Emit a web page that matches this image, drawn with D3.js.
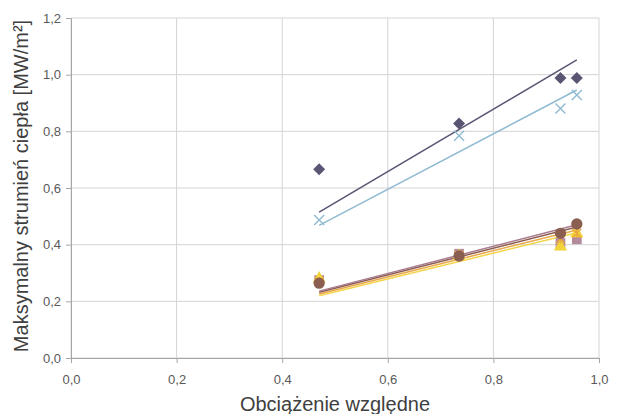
<!DOCTYPE html>
<html><head><meta charset="utf-8">
<script src="https://cdn.jsdelivr.net/npm/d3@7"></script>
<style>body{margin:0;background:#fff}svg{display:block}</style>
</head><body>
<svg id="c" width="620" height="414"></svg>
<script>
// ---- data ----
const xTicks = [0, 0.2, 0.4, 0.6, 0.8, 1.0];
const yTicks = [0, 0.2, 0.4, 0.6, 0.8, 1.0, 1.2];
const xLoad = [0.47, 0.735, 0.927, 0.958];
const diamondVals = [0.666, 0.828, 0.988, 0.988];
const crossVals   = [0.487, 0.784, 0.881, 0.928];
const squareVals  = [0.275, 0.368, 0.406, 0.419];
const triangleVals= [0.280, 0.360, 0.393, 0.440];
const starVals    = [0.270, 0.362, 0.420, 0.440];
const circleVals  = [0.264, 0.360, 0.440, 0.473];
const lineX = [0.47, 0.958];
const diamondLine = [0.515, 1.052];
const crossLine   = [0.468, 0.946];
const squareLine  = [0.236, 0.470];
const circleLine  = [0.232, 0.462];
const starLine    = [0.226, 0.452];
const triangleLine= [0.220, 0.442];
const xTitle = "Obciążenie względne";
const yTitle = "Maksymalny strumień ciepła [MW/m²]";

const svg = d3.select("#c");
const L = 71, R = 599, T = 18, B = 358;
const x = d3.scaleLinear().domain([0, 1]).range([L, R]);
const y = d3.scaleLinear().domain([0, 1.2]).range([B, T]);
const fmt = d => d3.format(".1f")(d).replace(".", ",");
const font = "Liberation Sans, Arial, sans-serif";

// gridlines
svg.append("g").selectAll("line").data(yTicks).join("line")
  .attr("x1", L).attr("x2", R).attr("y1", d => y(d)).attr("y2", d => y(d))
  .attr("stroke", "#d4d4d4").attr("stroke-width", 1);
svg.append("g").selectAll("line").data(xTicks).join("line")
  .attr("y1", T).attr("y2", B).attr("x1", d => x(d)).attr("x2", d => x(d))
  .attr("stroke", "#d4d4d4").attr("stroke-width", 1);

// axes
const xa = svg.append("g").attr("transform", `translate(0,${B})`)
  .call(d3.axisBottom(x).tickValues(xTicks).tickFormat(fmt).tickSize(5).tickPadding(12));
const ya = svg.append("g").attr("transform", `translate(${L},0)`)
  .call(d3.axisLeft(y).tickValues(yTicks).tickFormat(fmt).tickSize(5).tickPadding(5));
[xa, ya].forEach(a => {
  a.select(".domain").attr("stroke", "#a6a6a6");
  a.selectAll(".tick line").attr("stroke", "#a6a6a6");
  a.selectAll("text").attr("fill", "#595959").style("font-family", font).style("font-size", "13px");
});

// trend lines
const lines = [
  {v: diamondLine, c: "#5b5574"},
  {v: crossLine, c: "#8fbad2"},
  {v: triangleLine, c: "#f3d54c"},
  {v: starLine, c: "#eaa74a"},
  {v: circleLine, c: "#8b5e52"},
  {v: squareLine, c: "#a97c90"}
];
const lg = d3.line().x((d, i) => x(lineX[i])).y(d => y(d));
svg.append("g").selectAll("path").data(lines).join("path")
  .attr("d", d => lg(d.v)).attr("fill", "none").attr("stroke", d => d.c).attr("stroke-width", 1.5);

// markers
function markers(vals, type, size, color) {
  const g = svg.append("g");
  vals.forEach((v, i) => {
    const px = x(xLoad[i]), py = y(v);
    const s = size / 2;
    if (type === "cross") {
      g.append("path").attr("d", `M${px-s},${py-s}L${px+s},${py+s}M${px-s},${py+s}L${px+s},${py-s}`)
        .attr("stroke", color).attr("stroke-width", 1.4).attr("fill", "none");
    } else if (type === "star") {
      g.append("path").attr("d", `M${px-s},${py-s}L${px+s},${py+s}M${px-s},${py+s}L${px+s},${py-s}M${px},${py-s}L${px},${py+s}`)
        .attr("stroke", color).attr("stroke-width", 1.4).attr("fill", "none");
    } else if (type === "diamond") {
      g.append("path").attr("d", `M${px},${py-s}L${px+s},${py}L${px},${py+s}L${px-s},${py}Z`).attr("fill", color);
    } else {
      const sym = d3.symbol().type(type).size(size);
      g.append("path").attr("d", sym()).attr("transform", `translate(${px},${py})`).attr("fill", color);
    }
  });
}
markers(diamondVals, "diamond", 12, "#5b5574");
markers(crossVals, "cross", 10, "#8fbad2");
markers(squareVals, d3.symbolSquare, 95, "#b48a9d");
markers(triangleVals, d3.symbolTriangle, 75, "#f3d43a");
markers(starVals, "star", 9, "#e9a93c");
markers(circleVals, d3.symbolCircle, 100, "#8b5e52");

// titles
svg.append("text").attr("x", (L + R) / 2).attr("y", 411).attr("text-anchor", "middle")
  .attr("fill", "#404040").style("font-family", font).style("font-size", "20px").text(xTitle);
svg.append("text").attr("transform", `translate(28,${(T + B) / 2 - 2}) rotate(-90)`).attr("text-anchor", "middle")
  .attr("fill", "#404040").style("font-family", font).style("font-size", "20px").text(yTitle);
</script>
</body></html>
